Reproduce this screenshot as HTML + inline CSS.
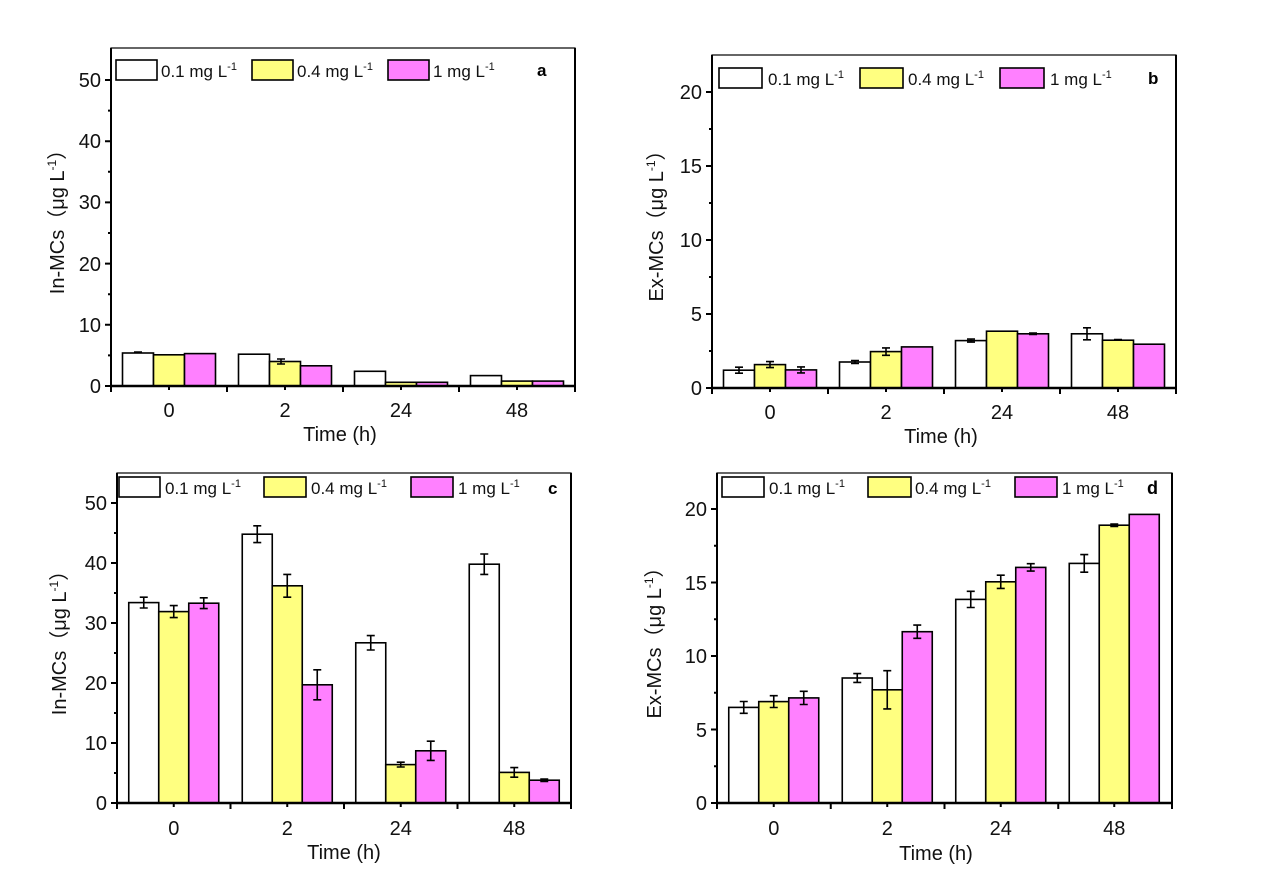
<!DOCTYPE html>
<html><head><meta charset="utf-8"><style>
html,body{margin:0;padding:0;background:#fff;}
svg{display:block;font-family:"Liberation Sans","Noto Sans CJK SC",sans-serif;}
.t{font-size:20px;fill:#111}
.lg{font-size:17px;fill:#111}
.w{fill:#fff;stroke:#000;stroke-width:1.6}
.y{fill:#ffff80;stroke:#000;stroke-width:1.6}
.p{fill:#ff80ff;stroke:#000;stroke-width:1.6}
.ax{stroke:#000;stroke-width:2;fill:none}
.e{stroke:#000;stroke-width:1.6;fill:none}
</style></head><body>
<svg width="1268" height="881" viewBox="0 0 1268 881">
<!-- ========== Panel a ========== -->
<g>
<rect x="111" y="48" width="464" height="338" fill="none" stroke="#000" stroke-width="1.2"/>
<rect class="w" x="122.5" y="353" width="31" height="33"/>
<rect class="y" x="153.5" y="354.8" width="31" height="31.2"/>
<rect class="p" x="184.5" y="353.6" width="31" height="32.4"/>
<rect class="w" x="238.5" y="354.2" width="31" height="31.8"/>
<rect class="y" x="269.5" y="361.5" width="31" height="24.5"/>
<rect class="p" x="300.5" y="365.8" width="31" height="20.2"/>
<rect class="w" x="354.5" y="371.3" width="31" height="14.7"/>
<rect class="y" x="385.5" y="382.3" width="31" height="3.7"/>
<rect class="p" x="416.5" y="382.3" width="31" height="3.7"/>
<rect class="w" x="470.5" y="375.6" width="31" height="10.4"/>
<rect class="y" x="501.5" y="381.1" width="31" height="4.9"/>
<rect class="p" x="532.5" y="381.1" width="31" height="4.9"/>
<path class="e" d="M134,352H142M281,359V364M277,359H285M277,364H285"/>
<path class="ax" d="M111,48V386M575,386V48"/>
<path d="M111,386H575" stroke="#000" stroke-width="2.4"/>
<path class="ax" d="M111,386H105M111,324.8H105M111,263.6H105M111,202.4H105M111,141.2H105M111,80H105M111,355.4H108M111,294.2H108M111,233H108M111,171.8H108M111,110.6H108"/>
<path class="ax" d="M111,386V392M227,386V392M343,386V392M459,386V392M575,386V392M169,386V390M285,386V390M401,386V390M517,386V390"/>
<g class="t" text-anchor="end"><text x="101" y="393">0</text><text x="101" y="332">10</text><text x="101" y="271">20</text><text x="101" y="209">30</text><text x="101" y="148">40</text><text x="101" y="87">50</text></g>
<g class="t" text-anchor="middle"><text x="169" y="417">0</text><text x="285" y="417">2</text><text x="401" y="417">24</text><text x="517" y="417">48</text><text x="340" y="441">Time (h)</text></g>
<text class="t" transform="translate(64,217) rotate(-90)" text-anchor="middle">In-MCs（μg L<tspan font-size="12" dy="-8">-1</tspan><tspan dy="8">）</tspan></text>
<rect class="w" x="116" y="60" width="41" height="20"/><text class="lg" x="161" y="77">0.1 mg L<tspan font-size="11" dy="-7">-1</tspan></text>
<rect class="y" x="252" y="60" width="41" height="20"/><text class="lg" x="297" y="77">0.4 mg L<tspan font-size="11" dy="-7">-1</tspan></text>
<rect class="p" x="388" y="60" width="41" height="20"/><text class="lg" x="433" y="77">1 mg L<tspan font-size="11" dy="-7">-1</tspan></text>
<text x="537" y="76" font-size="17" font-weight="bold">a</text>
</g>
<!-- ========== Panel b ========== -->
<g>
<rect x="712" y="55" width="464" height="333" fill="none" stroke="#000" stroke-width="1.2"/>
<rect class="w" x="723.5" y="370.2" width="31" height="17.8"/>
<rect class="y" x="754.5" y="364.6" width="31" height="23.4"/>
<rect class="p" x="785.5" y="369.9" width="31" height="18.1"/>
<rect class="w" x="839.5" y="362" width="31" height="26"/>
<rect class="y" x="870.5" y="351.6" width="31" height="36.4"/>
<rect class="p" x="901.5" y="346.9" width="31" height="41.1"/>
<rect class="w" x="955.5" y="340.6" width="31" height="47.4"/>
<rect class="y" x="986.5" y="331.2" width="31" height="56.8"/>
<rect class="p" x="1017.5" y="333.8" width="31" height="54.2"/>
<rect class="w" x="1071.5" y="333.8" width="31" height="54.2"/>
<rect class="y" x="1102.5" y="340.2" width="31" height="47.8"/>
<rect class="p" x="1133.5" y="344.2" width="31" height="43.8"/>
<path class="e" d="M739,367.2V373.2M735,367.2H743M735,373.2H743
M770,361.6V367.6M766,361.6H774M766,367.6H774
M801,366.9V372.9M797,366.9H805M797,372.9H805
M855,360.5V363.5M851,360.5H859M851,363.5H859
M886,347.9V355.3M882,347.9H890M882,355.3H890
M971,339.1V342.1M967,339.1H975M967,342.1H975
M1033,333.1V334.5M1029,333.1H1037M1029,334.5H1037
M1087,327.8V339.8M1083,327.8H1091M1083,339.8H1091
M1118,339.5V340.9M1114,339.5H1122"/>
<path class="ax" d="M712,55V388M1176,388V55"/>
<path d="M712,388H1176" stroke="#000" stroke-width="2.4"/>
<path class="ax" d="M712,388H706M712,314H706M712,240H706M712,166H706M712,92H706M712,351H709M712,277H709M712,203H709M712,129H709"/>
<path class="ax" d="M712,388V394M828,388V394M944,388V394M1060,388V394M1176,388V394M770,388V392M886,388V392M1002,388V392M1118,388V392"/>
<g class="t" text-anchor="end"><text x="702" y="395">0</text><text x="702" y="321">5</text><text x="702" y="247">10</text><text x="702" y="173">15</text><text x="702" y="99">20</text></g>
<g class="t" text-anchor="middle"><text x="770" y="419">0</text><text x="886" y="419">2</text><text x="1002" y="419">24</text><text x="1118" y="419">48</text><text x="941" y="443">Time (h)</text></g>
<text class="t" transform="translate(663,221) rotate(-90)" text-anchor="middle">Ex-MCs（μg L<tspan font-size="12" dy="-8">-1</tspan><tspan dy="8">）</tspan></text>
<rect class="w" x="719" y="68" width="43" height="20"/><text class="lg" x="768" y="85">0.1 mg L<tspan font-size="11" dy="-7">-1</tspan></text>
<rect class="y" x="860" y="68" width="43" height="20"/><text class="lg" x="908" y="85">0.4 mg L<tspan font-size="11" dy="-7">-1</tspan></text>
<rect class="p" x="1000" y="68" width="44" height="20"/><text class="lg" x="1050" y="85">1 mg L<tspan font-size="11" dy="-7">-1</tspan></text>
<text x="1148" y="84" font-size="17" font-weight="bold">b</text>
</g>
<!-- ========== Panel c ========== -->
<g>
<rect x="117" y="473" width="454" height="330" fill="none" stroke="#000" stroke-width="1.2"/>
<rect class="w" x="128.75" y="602.6" width="30" height="200.4"/>
<rect class="y" x="158.75" y="611.6" width="30" height="191.4"/>
<rect class="p" x="188.75" y="603.2" width="30" height="199.8"/>
<rect class="w" x="242.25" y="534.2" width="30" height="268.8"/>
<rect class="y" x="272.25" y="585.8" width="30" height="217.2"/>
<rect class="p" x="302.25" y="684.8" width="30" height="118.2"/>
<rect class="w" x="355.75" y="642.8" width="30" height="160.2"/>
<rect class="y" x="385.75" y="764.6" width="30" height="38.4"/>
<rect class="p" x="415.75" y="750.8" width="30" height="52.2"/>
<rect class="w" x="469.25" y="564.2" width="30" height="238.8"/>
<rect class="y" x="499.25" y="772.4" width="30" height="30.6"/>
<rect class="p" x="529.25" y="780.2" width="30" height="22.8"/>
<path class="e" d="M143.75,597.2V608M139.75,597.2H147.75M139.75,608H147.75
M173.75,605.6V617.6M169.75,605.6H177.75M169.75,617.6H177.75
M203.75,597.8V608.6M199.75,597.8H207.75M199.75,608.6H207.75
M257.25,525.8V542.6M253.25,525.8H261.25M253.25,542.6H261.25
M287.25,574.4V597.2M283.25,574.4H291.25M283.25,597.2H291.25
M317.25,669.8V699.8M313.25,669.8H321.25M313.25,699.8H321.25
M370.75,635.6V650M366.75,635.6H374.75M366.75,650H374.75
M400.75,762.2V767M396.75,762.2H404.75M396.75,767H404.75
M430.75,741.2V760.4M426.75,741.2H434.75M426.75,760.4H434.75
M484.25,554V574.4M480.25,554H488.25M480.25,574.4H488.25
M514.25,767.6V777.2M510.25,767.6H518.25M510.25,777.2H518.25
M544.25,779V781.4M540.25,779H548.25M540.25,781.4H548.25"/>
<path class="ax" d="M117,473V803M571,803V473"/>
<path d="M117,803H571" stroke="#000" stroke-width="2.4"/>
<path class="ax" d="M117,803H111M117,743H111M117,683H111M117,623H111M117,563H111M117,503H111M117,773H114M117,713H114M117,653H114M117,593H114M117,533H114"/>
<path class="ax" d="M117,803V809M230.5,803V809M344,803V809M457.5,803V809M571,803V809M173.75,803V807M287.25,803V807M400.75,803V807M514.25,803V807"/>
<g class="t" text-anchor="end"><text x="107" y="810">0</text><text x="107" y="750">10</text><text x="107" y="690">20</text><text x="107" y="630">30</text><text x="107" y="570">40</text><text x="107" y="510">50</text></g>
<g class="t" text-anchor="middle"><text x="173.75" y="835">0</text><text x="287.25" y="835">2</text><text x="400.75" y="835">24</text><text x="514.25" y="835">48</text><text x="344" y="859">Time (h)</text></g>
<text class="t" transform="translate(66,638) rotate(-90)" text-anchor="middle">In-MCs（μg L<tspan font-size="12" dy="-8">-1</tspan><tspan dy="8">）</tspan></text>
<rect class="w" x="119" y="477" width="41" height="20"/><text class="lg" x="165" y="494">0.1 mg L<tspan font-size="11" dy="-7">-1</tspan></text>
<rect class="y" x="264" y="477" width="42" height="20"/><text class="lg" x="311" y="494">0.4 mg L<tspan font-size="11" dy="-7">-1</tspan></text>
<rect class="p" x="411" y="477" width="42" height="20"/><text class="lg" x="458" y="494">1 mg L<tspan font-size="11" dy="-7">-1</tspan></text>
<text x="548" y="494" font-size="17" font-weight="bold">c</text>
</g>
<!-- ========== Panel d ========== -->
<g>
<rect x="717" y="473" width="455" height="330" fill="none" stroke="#000" stroke-width="1.2"/>
<rect class="w" x="728.75" y="707.4" width="30" height="95.6"/>
<rect class="y" x="758.75" y="701.6" width="30" height="101.4"/>
<rect class="p" x="788.75" y="697.9" width="30" height="105.1"/>
<rect class="w" x="842.25" y="678" width="30" height="125"/>
<rect class="y" x="872.25" y="689.8" width="30" height="113.2"/>
<rect class="p" x="902.25" y="631.7" width="30" height="171.3"/>
<rect class="w" x="955.75" y="599.4" width="30" height="203.6"/>
<rect class="y" x="985.75" y="581.8" width="30" height="221.2"/>
<rect class="p" x="1015.75" y="567.4" width="30" height="235.6"/>
<rect class="w" x="1069.25" y="563.4" width="30" height="239.6"/>
<rect class="y" x="1099.25" y="525.2" width="30" height="277.8"/>
<rect class="p" x="1129.25" y="514.4" width="30" height="288.6"/>
<path class="e" d="M743.75,701.5V713.3M739.75,701.5H747.75M739.75,713.3H747.75
M773.75,695.7V707.5M769.75,695.7H777.75M769.75,707.5H777.75
M803.75,691.3V704.5M799.75,691.3H807.75M799.75,704.5H807.75
M857.25,673.6V682.4M853.25,673.6H861.25M853.25,682.4H861.25
M887.25,670.7V708.9M883.25,670.7H891.25M883.25,708.9H891.25
M917.25,625.1V638.3M913.25,625.1H921.25M913.25,638.3H921.25
M970.75,591.3V607.5M966.75,591.3H974.75M966.75,607.5H974.75
M1000.75,575.2V588.4M996.75,575.2H1004.75M996.75,588.4H1004.75
M1030.75,563.7V571.1M1026.75,563.7H1034.75M1026.75,571.1H1034.75
M1084.25,554.6V572.2M1080.25,554.6H1088.25M1080.25,572.2H1088.25
M1114.25,524V526.4M1110.25,524H1118.25M1110.25,526.4H1118.25"/>
<path class="ax" d="M717,473V803M1172,803V473"/>
<path d="M717,803H1172" stroke="#000" stroke-width="2.4"/>
<path class="ax" d="M717,803H711M717,729.5H711M717,656H711M717,582.5H711M717,509H711M717,766.25H714M717,692.75H714M717,619.25H714M717,545.75H714"/>
<path class="ax" d="M717,803V809M830.75,803V809M944.5,803V809M1058.25,803V809M1172,803V809M773.75,803V807M887.25,803V807M1000.75,803V807M1114.25,803V807"/>
<g class="t" text-anchor="end"><text x="707" y="810">0</text><text x="707" y="737">5</text><text x="707" y="663">10</text><text x="707" y="590">15</text><text x="707" y="516">20</text></g>
<g class="t" text-anchor="middle"><text x="773.75" y="835">0</text><text x="887.25" y="835">2</text><text x="1000.75" y="835">24</text><text x="1114.25" y="835">48</text><text x="936" y="860">Time (h)</text></g>
<text class="t" transform="translate(661,638) rotate(-90)" text-anchor="middle">Ex-MCs（μg L<tspan font-size="12" dy="-8">-1</tspan><tspan dy="8">）</tspan></text>
<rect class="w" x="722" y="477" width="42" height="20"/><text class="lg" x="769" y="494">0.1 mg L<tspan font-size="11" dy="-7">-1</tspan></text>
<rect class="y" x="868" y="477" width="43" height="20"/><text class="lg" x="915" y="494">0.4 mg L<tspan font-size="11" dy="-7">-1</tspan></text>
<rect class="p" x="1015" y="477" width="42" height="20"/><text class="lg" x="1062" y="494">1 mg L<tspan font-size="11" dy="-7">-1</tspan></text>
<text x="1147" y="494" font-size="18" font-weight="bold">d</text>
</g>
</svg>
</body></html>
